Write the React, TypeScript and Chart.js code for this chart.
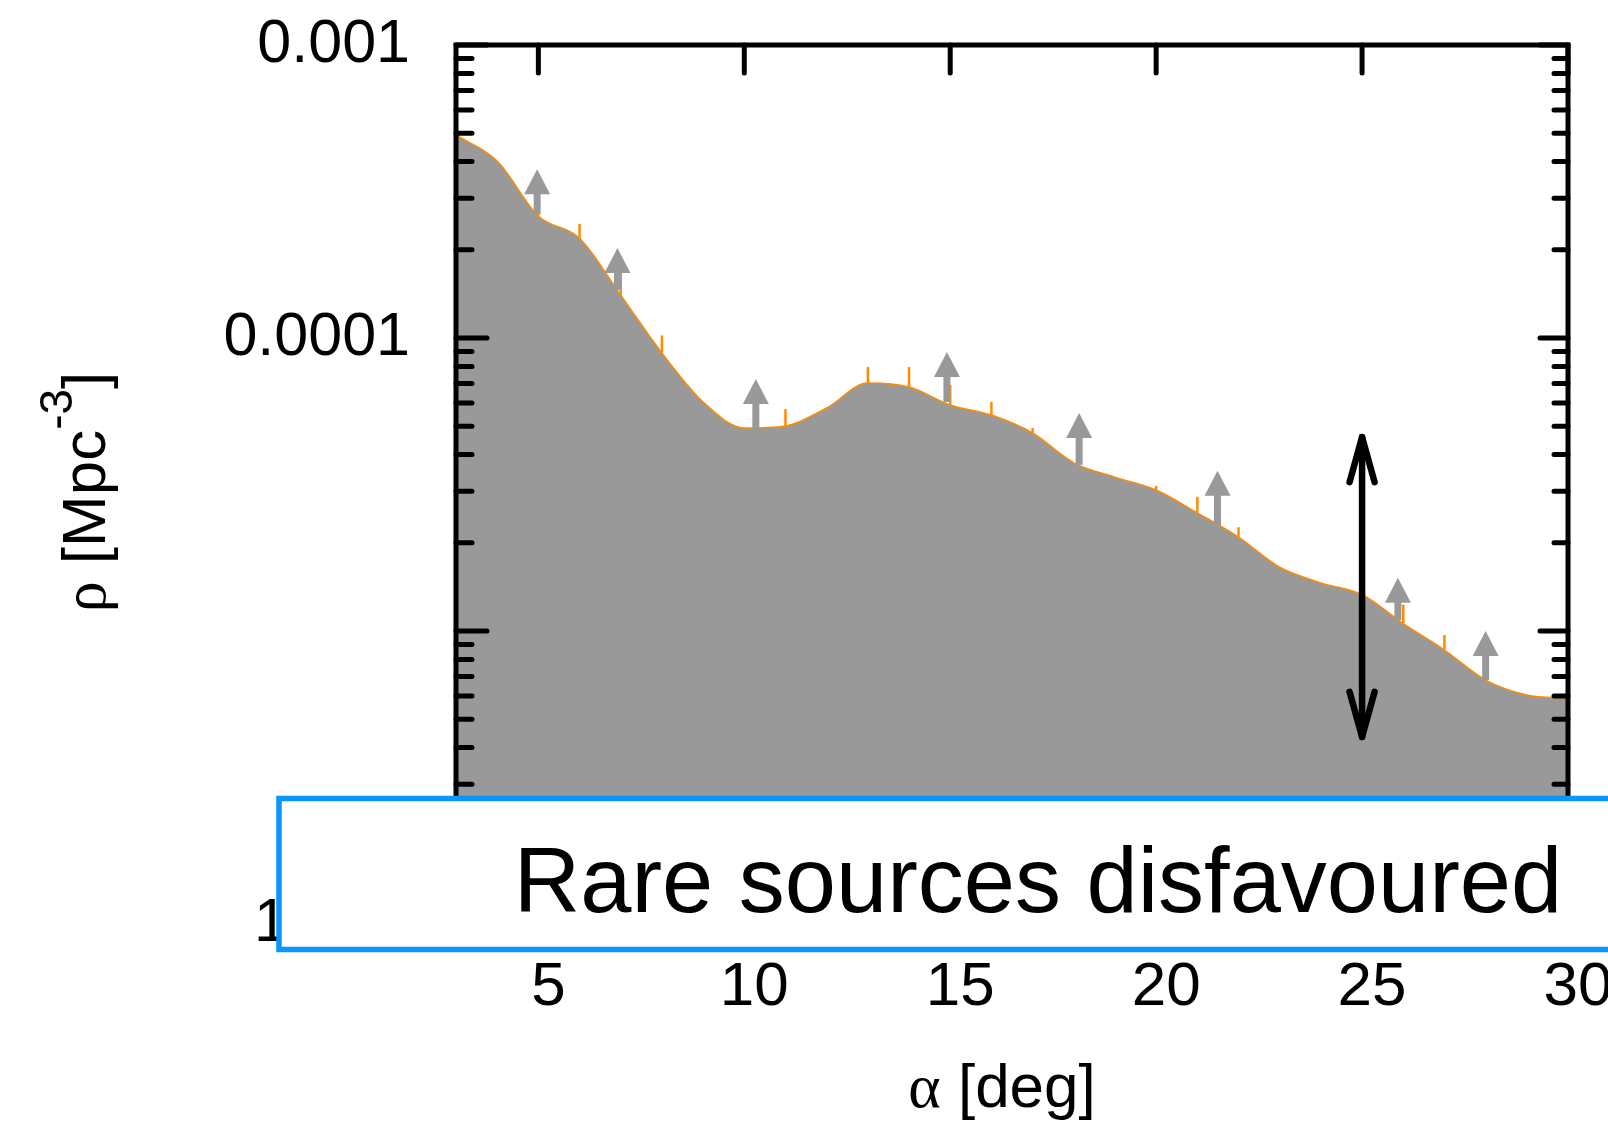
import React, { useEffect, useRef } from 'react';
import { Chart, registerables } from 'chart.js';

Chart.register(...registerables);

// ---------------- data ----------------
const alphaDeg = [3, 4, 5, 6, 7, 8, 9, 10, 11, 12, 13, 14, 15, 16, 17, 18, 19, 20, 21, 22, 23, 24, 25, 26, 27, 28, 29, 30];
const rhoCurve = [
  4.93e-4, 4.02e-4, 2.61e-4, 2.19e-4, 1.4e-4, 8.89e-5, 6.05e-5, 4.93e-5, 5.01e-5, 5.77e-5,
  7.02e-5, 6.8e-5, 5.91e-5, 5.46e-5, 4.74e-5, 3.75e-5, 3.35e-5, 3.03e-5, 2.53e-5, 2.09e-5,
  1.65e-5, 1.46e-5, 1.33e-5, 1.06e-5, 8.61e-6, 6.8e-6, 6.05e-6, 5.9e-6,
];
// upper error bars (orange) at integer alpha
const errAlpha = [5, 6, 7, 8, 11, 13, 14, 15, 16, 17, 20, 21, 22, 25, 26, 27];
const errUpper = [2.89e-4, 2.45e-4, 1.67e-4, 1.02e-4, 5.72e-5, 7.96e-5, 7.96e-5, 6.91e-5, 6.05e-5, 4.93e-5, 3.13e-5, 2.87e-5, 2.26e-5, 4.49e-5, 1.23e-5, 9.69e-6];
// grey lower-limit arrows
const limAlpha = [4.97, 6.92, 10.28, 14.92, 18.13, 21.49, 25.87, 28.0];
const limTip = [3.77e-4, 2.03e-4, 7.25e-5, 8.96e-5, 5.55e-5, 3.52e-5, 1.52e-5, 1.0e-5];
const limBase = [2.65e-4, 1.46e-4, 4.85e-5, 6.05e-5, 3.69e-5, 2.3e-5, 1.09e-5, 6.8e-6];
// black double arrow (range)
const rangeAlpha = [25];
const rangeLow = [4.35e-6];
const rangeHigh = [4.59e-5];
// ticks
const xTickValues = [5, 10, 15, 20, 25, 30];
const xTickLabels = ['5', '10', '15', '20', '25', '30'];
const yMajorValues = [1e-6, 1e-5, 1e-4, 1e-3];
const yMajorLabels = ['1e-06', '', '0.0001', '0.001'];
const yMinorMultipliers = [2, 3, 4, 5, 6, 7, 8, 9];
// texts
const xTitleParts = ['α', ' [deg]'];
const yTitleParts = ['ρ', ' [Mpc', '-3', ']'];
const boxText = 'Rare sources disfavoured';

// ---------------- styles ----------------
const SANS = '"Liberation Sans", Arial, Helvetica, sans-serif';
const SERIF = '"Liberation Serif", "DejaVu Serif", serif';
const GRAY = '#999999';
const ORANGE = '#ff8c00';
const BLUE = 'rgb(10,150,255)';

const isMajor = (v: number) => yMajorValues.some((m) => Math.abs(v - m) / m < 1e-6);
const majorIndex = (v: number) => yMajorValues.findIndex((m) => Math.abs(v - m) / m < 1e-6);

const zeroPadding = (s: any) => {
  s.paddingTop = 0;
  s.paddingBottom = 0;
  s.paddingLeft = 0;
  s.paddingRight = 0;
};

const overlayPlugin = {
  id: 'overlayPlugin',
  afterDatasetsDraw(chart: any) {
    const { ctx, chartArea: ca, scales } = chart;
    const x = scales.x;
    const y = scales.y;
    ctx.save();

    // orange error bars
    ctx.strokeStyle = ORANGE;
    ctx.lineWidth = 2.5;
    ctx.lineCap = 'butt';
    errAlpha.forEach((a, i) => {
      const idx = alphaDeg.indexOf(a);
      const px = x.getPixelForValue(a);
      ctx.beginPath();
      ctx.moveTo(px, y.getPixelForValue(rhoCurve[idx]));
      ctx.lineTo(px, y.getPixelForValue(errUpper[i]));
      ctx.stroke();
    });

    // grey lower-limit arrows
    ctx.fillStyle = GRAY;
    limAlpha.forEach((a, i) => {
      const px = x.getPixelForValue(a);
      const tip = y.getPixelForValue(limTip[i]);
      const base = y.getPixelForValue(limBase[i]);
      const hw = 13;
      const hh = 25;
      ctx.beginPath();
      ctx.moveTo(px, tip);
      ctx.lineTo(px - hw, tip + hh);
      ctx.lineTo(px + hw, tip + hh);
      ctx.closePath();
      ctx.fill();
      ctx.fillRect(px - 3.5, tip + hh - 1, 7, base - (tip + hh - 1));
    });

    // frame
    ctx.strokeStyle = '#000';
    ctx.lineWidth = 5;
    ctx.lineCap = 'butt';
    ctx.strokeRect(ca.left, ca.top, ca.right - ca.left, ca.bottom - ca.top);

    // inward ticks
    ctx.lineCap = 'round';
    ctx.lineWidth = 5;
    x.ticks.forEach((t: any) => {
      const px = x.getPixelForValue(t.value);
      ctx.beginPath();
      ctx.moveTo(px, ca.top);
      ctx.lineTo(px, ca.top + 28);
      ctx.moveTo(px, ca.bottom);
      ctx.lineTo(px, ca.bottom - 28);
      ctx.stroke();
    });
    y.ticks.forEach((t: any) => {
      const py = y.getPixelForValue(t.value);
      const major = isMajor(t.value);
      const lenL = major ? 31 : 16;
      const lenR = major ? 28 : 14;
      ctx.beginPath();
      ctx.moveTo(ca.left, py);
      ctx.lineTo(ca.left + lenL, py);
      ctx.moveTo(ca.right, py);
      ctx.lineTo(ca.right - lenR, py);
      ctx.stroke();
    });

    // black double arrow
    ctx.strokeStyle = '#000';
    ctx.lineWidth = 6.5;
    ctx.lineCap = 'round';
    ctx.lineJoin = 'round';
    rangeAlpha.forEach((a, i) => {
      const px = x.getPixelForValue(a);
      const top = y.getPixelForValue(rangeHigh[i]);
      const bot = y.getPixelForValue(rangeLow[i]);
      const hw = 12.5;
      const hl = 45;
      ctx.beginPath();
      ctx.moveTo(px, top);
      ctx.lineTo(px, bot);
      ctx.stroke();
      ctx.beginPath();
      ctx.moveTo(px - hw, top + hl);
      ctx.lineTo(px, top);
      ctx.lineTo(px + hw, top + hl);
      ctx.stroke();
      ctx.beginPath();
      ctx.moveTo(px - hw, bot - hl);
      ctx.lineTo(px, bot);
      ctx.lineTo(px + hw, bot - hl);
      ctx.stroke();
    });
    ctx.restore();
  },
  afterDraw(chart: any) {
    const { ctx } = chart;
    ctx.save();
    ctx.fillStyle = '#000';
    ctx.textBaseline = 'alphabetic';
    ctx.textAlign = 'left';

    // x-axis title: α [deg]
    {
      const fA = `62px ${SERIF}`;
      const fB = `62px ${SANS}`;
      ctx.font = fA;
      const wA = ctx.measureText(xTitleParts[0]).width;
      ctx.font = fB;
      const wB = ctx.measureText(xTitleParts[1]).width;
      const sx = 1002 - (wA + wB) / 2;
      const by = 1107;
      ctx.font = fA;
      ctx.fillText(xTitleParts[0], sx, by);
      ctx.font = fB;
      ctx.fillText(xTitleParts[1], sx + wA, by);
    }

    // y-axis title: ρ [Mpc^-3]
    {
      const parts = [
        { t: yTitleParts[0], f: `62px ${SERIF}`, dy: 0 },
        { t: yTitleParts[1], f: `62px ${SANS}`, dy: 0 },
        { t: yTitleParts[2], f: `46px ${SANS}`, dy: -33 },
        { t: yTitleParts[3], f: `62px ${SANS}`, dy: 0 },
      ];
      let total = 0;
      const widths = parts.map((p) => {
        ctx.font = p.f;
        const w = ctx.measureText(p.t).width;
        total += w;
        return w;
      });
      ctx.translate(105, 492);
      ctx.rotate(-Math.PI / 2);
      let cx = -total / 2;
      parts.forEach((p, i) => {
        ctx.font = p.f;
        ctx.fillText(p.t, cx, p.dy);
        cx += widths[i];
      });
      ctx.setTransform(1, 0, 0, 1, 0, 0);
    }

    // annotation box
    ctx.fillStyle = '#fff';
    ctx.fillRect(279, 798.5, 1400, 151);
    ctx.strokeStyle = BLUE;
    ctx.lineWidth = 5.5;
    ctx.strokeRect(279, 798.5, 1400, 151);
    ctx.fillStyle = '#000';
    ctx.font = `92px ${SANS}`;
    ctx.textAlign = 'center';
    ctx.textBaseline = 'alphabetic';
    ctx.fillText(boxText, 1038, 912);
    ctx.restore();
  },
};

export default function App() {
  const canvasRef = useRef<HTMLCanvasElement | null>(null);

  useEffect(() => {
    const canvas = canvasRef.current;
    if (!canvas) return;
    const chart = new Chart(canvas, {
      type: 'line',
      data: {
        datasets: [
          {
            label: 'rho',
            data: alphaDeg.map((a, i) => ({ x: a, y: rhoCurve[i] })),
            borderColor: ORANGE,
            borderWidth: 1.5,
            backgroundColor: GRAY,
            fill: 'start',
            pointRadius: 0,
            cubicInterpolationMode: 'monotone',
          },
        ],
      },
      options: {
        responsive: false,
        devicePixelRatio: 1,
        animation: false,
        events: [],
        layout: { padding: { left: 0, right: 40, top: 45, bottom: 0 } },
        plugins: {
          legend: { display: false },
          tooltip: { enabled: false },
          title: { display: false },
        },
        scales: {
          x: {
            type: 'linear',
            position: 'bottom',
            min: 3,
            max: 30,
            grid: { display: false, drawTicks: false },
            border: { display: false },
            afterBuildTicks: (s: any) => {
              s.ticks = xTickValues.map((v) => ({ value: v }));
            },
            afterFit: (s: any) => {
              s.height = 198;
              zeroPadding(s);
            },
            ticks: {
              autoSkip: false,
              maxRotation: 0,
              minRotation: 0,
              padding: 27,
              labelOffset: 10,
              color: '#000',
              font: { family: SANS, size: 62 },
              callback: (v: any) => {
                const i = xTickValues.indexOf(Number(v));
                return i >= 0 ? xTickLabels[i] : '';
              },
            },
          },
          y: {
            type: 'logarithmic',
            position: 'left',
            min: 1e-6,
            max: 1e-3,
            grid: { display: false, drawTicks: false },
            border: { display: false },
            afterBuildTicks: (s: any) => {
              const ticks: any[] = [];
              yMajorValues.forEach((m, i) => {
                ticks.push({ value: m, major: true });
                if (i < yMajorValues.length - 1) {
                  yMinorMultipliers.forEach((k) => ticks.push({ value: k * m, major: false }));
                }
              });
              s.ticks = ticks;
            },
            afterFit: (s: any) => {
              s.width = 456;
              zeroPadding(s);
            },
            ticks: {
              autoSkip: false,
              padding: 46,
              color: '#000',
              font: { family: SANS, size: 61 },
              callback: (v: any) => {
                const i = majorIndex(Number(v));
                return i >= 0 ? yMajorLabels[i] : '';
              },
            },
          },
        },
      },
      plugins: [overlayPlugin],
    } as any);
    return () => chart.destroy();
  }, []);

  return (
    <div style={{ position: 'fixed', left: 0, top: 0, width: 1608, height: 1122, background: '#fff' }}>
      <canvas ref={canvasRef} width={1608} height={1122} style={{ display: 'block', width: 1608, height: 1122 }} />
    </div>
  );
}
